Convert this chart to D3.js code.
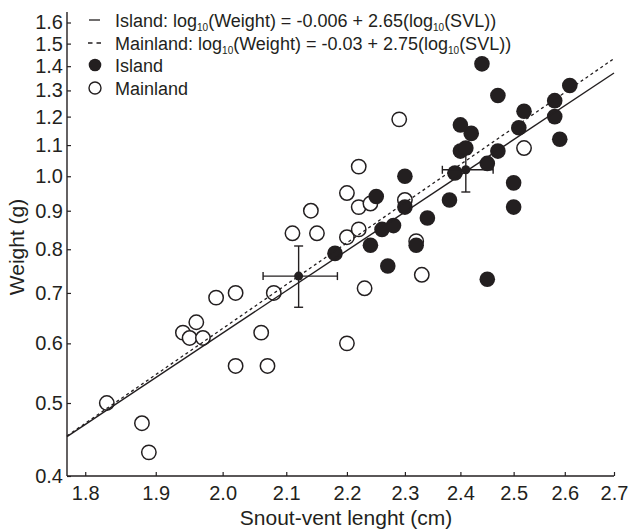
<!DOCTYPE html>
<html lang="en">
<head>
<meta charset="UTF-8">
<title>SVL vs Weight</title>
<script src="https://cdn.jsdelivr.net/npm/d3@7"></script>
<style>
body{margin:0;background:#fff;}
text{font-family:"Liberation Sans",Arial,sans-serif;fill:#231f20;}
</style>
</head>
<body>
<script>
// data
var islandSVL    = [2.18,2.24,2.26,2.28,2.25,2.30,2.30,2.34,2.32,2.27,2.38,2.39,2.40,2.41,2.42,2.40,2.44,2.47,2.45,2.47,2.50,2.50,2.45,2.51,2.52,2.58,2.58,2.59,2.61];
var islandWeight = [0.79,0.81,0.85,0.86,0.94,1.00,0.91,0.88,0.81,0.76,0.93,1.01,1.08,1.09,1.14,1.17,1.41,1.28,1.04,1.08,0.98,0.91,0.73,1.16,1.22,1.26,1.20,1.12,1.32];
var mainlandSVL    = [1.83,1.88,1.89,1.94,1.95,1.96,1.97,1.99,2.02,2.02,2.06,2.07,2.08,2.11,2.14,2.15,2.20,2.20,2.20,2.22,2.22,2.22,2.23,2.24,2.29,2.30,2.32,2.33,2.52];
var mainlandWeight = [0.50,0.47,0.43,0.62,0.61,0.64,0.61,0.69,0.70,0.56,0.62,0.56,0.70,0.84,0.90,0.84,0.95,0.83,0.60,1.03,0.91,0.85,0.71,0.92,1.19,0.93,0.82,0.74,1.09];
// group means with error bars: [svl, weight, svlLow, svlHigh, wLow, wHigh]
var islandMean   = [2.41, 1.02, 2.367, 2.461, 0.953, 1.07];
var mainlandMean = [2.12, 0.737, 2.063, 2.184, 0.670, 0.808];
// regression: log10(W) = a + b*log10(SVL)  (weights plotted in g/10)
var fitA = [-0.006, -0.03];
var fitB = [2.65, 2.75];
var xTicks = [1.8,1.9,2.0,2.1,2.2,2.3,2.4,2.5,2.6,2.7];
var yTicks = [0.4,0.5,0.6,0.7,0.8,0.9,1.0,1.1,1.2,1.3,1.4,1.5,1.6];

var width=630, height=531;
var svg=d3.select("body").append("svg").attr("width",width).attr("height",height);
var ink="#231f20";

var x=d3.scaleLog().domain([1.775,2.7]).range([67,614]);
var y=d3.scaleLog().domain([0.4,1.6]).range([476,22.5]);

//axes
var xAxis=d3.axisBottom(x).tickValues(xTicks).tickFormat(d3.format(".1f")).tickSizeInner(-4).tickSizeOuter(0).tickPadding(10);
var yAxis=d3.axisLeft(y).tickValues(yTicks).tickFormat(d3.format(".1f")).tickSizeInner(-4).tickSizeOuter(0).tickPadding(4);
var gx=svg.append("g").attr("transform","translate(0,476)").call(xAxis);
var gy=svg.append("g").attr("transform","translate(67,0)").call(yAxis);
[gx,gy].forEach(function(g){
	g.select(".domain").remove();
	g.selectAll("line").attr("stroke",ink).attr("stroke-width",1.2);
	g.selectAll("text").attr("font-size",20).attr("fill",ink).style("font-family","Liberation Sans, Arial, sans-serif");
});
svg.append("line").attr("x1",67).attr("x2",614).attr("y1",476).attr("y2",476).attr("stroke",ink).attr("stroke-width",1.4);
svg.append("line").attr("x1",67).attr("x2",67).attr("y1",476).attr("y2",12).attr("stroke",ink).attr("stroke-width",1.4);

//axis titles
svg.append("text").attr("x",346).attr("y",525).attr("text-anchor","middle").attr("font-size",21).text("Snout-vent lenght (cm)");
svg.append("text").attr("transform","translate(24,247) rotate(-90)").attr("text-anchor","middle").attr("font-size",21).text("Weight (g)");

//points: mainland first, island over them
var mainland=mainlandSVL.map(function(d,i){return [d,mainlandWeight[i]];});
var island=islandSVL.map(function(d,i){return [d,islandWeight[i]];});
svg.append("g").selectAll("circle").data(mainland).enter().append("circle")
	.attr("cx",function(d){return x(d[0]);}).attr("cy",function(d){return y(d[1]);})
	.attr("r",7.2).attr("fill","#fff").attr("stroke",ink).attr("stroke-width",1.5);
svg.append("g").selectAll("circle").data(island).enter().append("circle")
	.attr("cx",function(d){return x(d[0]);}).attr("cy",function(d){return y(d[1]);})
	.attr("r",7.8).attr("fill",ink);

//fitted lines
var line=d3.line().x(function(d){return x(d[0]);}).y(function(d){return y(d[1]);});
function fit(k){
	return x.domain().map(function(s){return [s,Math.pow(10,fitA[k]+fitB[k]*Math.log10(s))/10];});
}
svg.append("path").attr("d",line(fit(0))).attr("fill","none").attr("stroke",ink).attr("stroke-width",1.4);
svg.append("path").attr("d",line(fit(1))).attr("fill","none").attr("stroke",ink).attr("stroke-width",1.3).attr("stroke-dasharray","3,3");

//means with error bars
[islandMean,mainlandMean].forEach(function(m){
	var g=svg.append("g").attr("stroke",ink).attr("stroke-width",1.4);
	var cx=x(m[0]), cy=y(m[1]);
	g.append("line").attr("x1",x(m[2])).attr("x2",x(m[3])).attr("y1",cy).attr("y2",cy);
	g.append("line").attr("x1",cx).attr("x2",cx).attr("y1",y(m[4])).attr("y2",y(m[5]));
	[m[2],m[3]].forEach(function(v){g.append("line").attr("x1",x(v)).attr("x2",x(v)).attr("y1",cy-4).attr("y2",cy+4);});
	[m[4],m[5]].forEach(function(v){g.append("line").attr("x1",cx-4.5).attr("x2",cx+4.5).attr("y1",y(v)).attr("y2",y(v));});
	svg.append("circle").attr("cx",cx).attr("cy",cy).attr("r",4.5).attr("fill",ink);
});

//legend
var lg=svg.append("g");
var rows=[20,43,65,88];
lg.append("line").attr("x1",89).attr("x2",100).attr("y1",rows[0]).attr("y2",rows[0]).attr("stroke",ink).attr("stroke-width",1.3);
lg.append("line").attr("x1",88).attr("x2",101).attr("y1",rows[1]).attr("y2",rows[1]).attr("stroke",ink).attr("stroke-width",1.3).attr("stroke-dasharray","4.5,4");
lg.append("circle").attr("cx",95).attr("cy",rows[2]).attr("r",6.3).attr("fill",ink);
lg.append("circle").attr("cx",95).attr("cy",rows[3]).attr("r",6).attr("fill","#fff").attr("stroke",ink).attr("stroke-width",1.4);
function eqText(yy,name,a,b){
	var t=lg.append("text").attr("x",115).attr("y",yy+6.5).attr("font-size",18);
	t.append("tspan").text(name+": log");
	t.append("tspan").attr("font-size",10).attr("dy",4).text("10");
	t.append("tspan").attr("dy",-4).text("(Weight) = "+a+" + "+b+"(log");
	t.append("tspan").attr("font-size",10).attr("dy",4).text("10");
	t.append("tspan").attr("dy",-4).text("(SVL))");
}
eqText(rows[0],"Island",fitA[0],fitB[0]);
eqText(rows[1],"Mainland",fitA[1],fitB[1]);
lg.append("text").attr("x",115).attr("y",rows[2]+6.5).attr("font-size",18).text("Island");
lg.append("text").attr("x",115).attr("y",rows[3]+6.5).attr("font-size",18).text("Mainland");
</script>
</body>
</html>
